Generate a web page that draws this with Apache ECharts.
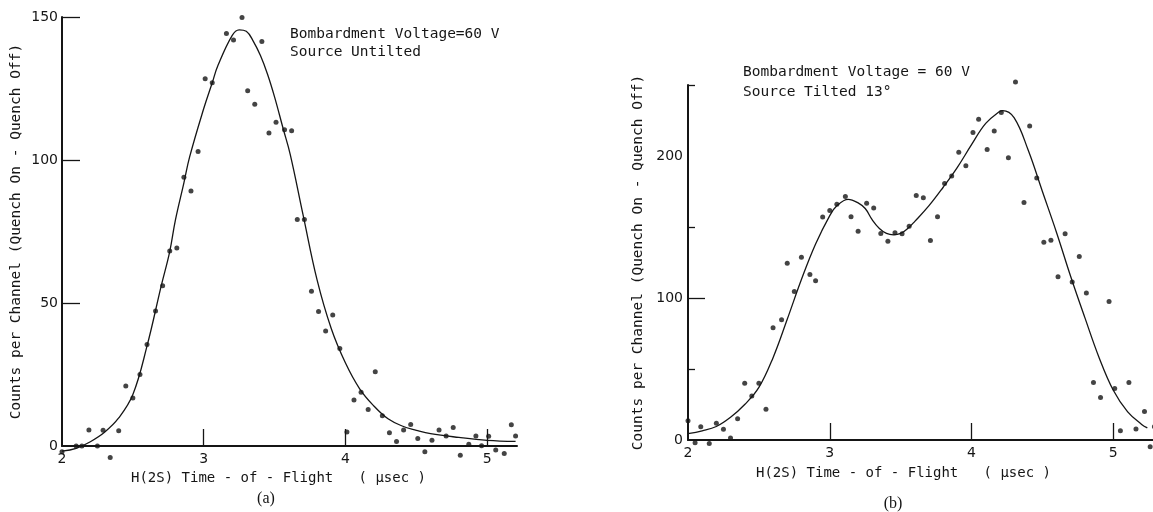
<!DOCTYPE html>
<html>
<head>
<meta charset="utf-8">
<script src="https://cdn.jsdelivr.net/npm/echarts@6/dist/echarts.min.js"></script>
<style>
  html, body { margin: 0; padding: 0; background: #fff; }
  #chart { width: 1153px; height: 512px; }
</style>
</head>
<body>
<div id="chart"></div>
<script>
// (a) source untilted: measured points
const timeA = [2.00, 2.10, 2.14, 2.19, 2.25, 2.29, 2.34, 2.40, 2.45, 2.50, 2.55, 2.60, 2.66, 2.71, 2.76, 2.81,
  2.86, 2.91, 2.96, 3.01, 3.06, 3.16, 3.21, 3.27, 3.31, 3.36, 3.41, 3.46, 3.51, 3.57, 3.62, 3.66, 3.71, 3.76,
  3.81, 3.86, 3.91, 3.96, 4.01, 4.06, 4.11, 4.16, 4.21, 4.26, 4.31, 4.36, 4.41, 4.46, 4.51, 4.56, 4.61, 4.66,
  4.71, 4.76, 4.81, 4.87, 4.92, 4.96, 5.01, 5.06, 5.12, 5.17, 5.20];
const countsA = [-2, 0, 0, 5.6, 0, 5.5, -4, 5.3, 21, 16.8, 25, 35.5, 47.2, 56, 68.2, 69.2,
  94, 89.2, 103, 128.4, 127, 144.2, 142, 149.8, 124.2, 119.5, 141.4, 109.4, 113.2, 110.6, 110.2, 79.2, 79.2, 54.1,
  47, 40.2, 45.8, 34.1, 4.9, 16.1, 18.8, 12.8, 26, 10.6, 4.6, 1.6, 5.6, 7.5, 2.6, -2, 2, 5.6,
  3.5, 6.5, -3.2, 0.6, 3.5, 0.1, 3.4, -1.4, -2.6, 7.4, 3.5];
// (a) fitted curve
const fitTimeA = [2.00, 2.10, 2.20, 2.30, 2.40, 2.50, 2.60, 2.70, 2.76, 2.80, 2.86, 2.90, 3.00, 3.06, 3.10, 3.20,
  3.25, 3.30, 3.35, 3.40, 3.45, 3.50, 3.56, 3.61, 3.70, 3.80, 3.90, 4.00, 4.10, 4.20, 4.30, 4.40, 4.50, 4.60,
  4.80, 5.00, 5.20];
const fitCountsA = [-1.8, -0.8, 1.5, 4.8, 9.8, 18, 35, 56, 68, 79, 92, 101, 118, 127, 133, 143.5,
  145.5, 145, 141.5, 136.5, 130, 122, 111, 102, 81, 58, 41, 29, 20, 14, 9.5, 7, 5.5, 4.3,
  3, 2, 1.6];

// (b) source tilted 13°: measured points
const timeB = [2.00, 2.05, 2.09, 2.15, 2.20, 2.25, 2.30, 2.35, 2.40, 2.45, 2.50, 2.55, 2.60, 2.66, 2.70, 2.75,
  2.80, 2.86, 2.90, 2.95, 3.00, 3.05, 3.11, 3.15, 3.20, 3.26, 3.31, 3.36, 3.41, 3.46, 3.51, 3.56, 3.61, 3.66,
  3.71, 3.76, 3.81, 3.86, 3.91, 3.96, 4.01, 4.05, 4.11, 4.16, 4.21, 4.26, 4.31, 4.37, 4.41, 4.46, 4.51, 4.56,
  4.61, 4.66, 4.71, 4.76, 4.81, 4.86, 4.91, 4.97, 5.01, 5.05, 5.11, 5.16, 5.22, 5.26, 5.29];
const countsB = [13.6, -1.9, 9.4, -2.4, 11.8, 7.5, 1.4, 15, 40, 31, 40, 21.6, 79, 84.7, 124.5, 104.5,
  128.7, 116.5, 112.2, 157, 161.6, 166, 171.5, 157.2, 147, 166.8, 163.3, 145.4, 140, 145.9, 145.2, 150.6, 172.2, 170.6,
  140.5, 157.2, 180.7, 185.9, 202.6, 193.2, 216.5, 225.9, 204.5, 217.6, 230.6, 198.8, 252.2, 167.3, 221.2, 184.5, 139.3, 140.7,
  115, 145.2, 111.3, 129.2, 103.5, 40.5, 30, 97.6, 36.2, 6.6, 40.5, 7.8, 20, -4.7, 9.4];
// (b) fitted curve
const fitTimeB = [2.0, 2.1, 2.2, 2.3, 2.4, 2.5, 2.6, 2.7, 2.8, 2.9, 3.0, 3.05, 3.13, 3.2, 3.25, 3.3, 3.35, 3.4,
  3.45, 3.5, 3.55, 3.6, 3.7, 3.8, 3.9, 4.0, 4.1, 4.2, 4.22, 4.3, 4.4, 4.5, 4.6, 4.7, 4.8, 4.9, 5.0, 5.1, 5.2, 5.24];
const fitCountsB = [4.5, 6.5, 9.5, 16, 25, 37, 58, 85, 113, 138, 158, 165, 169.5, 167, 163, 155, 149, 145.5,
  144.5, 145.5, 149, 154, 165, 178, 192, 208, 223, 231.5, 232, 227, 204, 175, 146, 115, 86, 58, 35, 20, 11, 8.5];

// tick positions / labels
const xLabels = [2, 3, 4, 5];
const xTicks = [3, 4, 5];
const yLabelsA = [0, 50, 100, 150];
const yTicksA = [50, 100, 150];
const yLabelsB = [0, 100, 200];
const yLongTicksB = [100];
const yShortTicksB = [50, 150, 250];

const INK = '#151515';
const MONO = '"DejaVu Sans Mono", monospace';
const NUM = '"DejaVu Sans", sans-serif';

function zip(xs, ys) {
  return xs.map((x, i) => [x, ys[i]]);
}

function xAxisFor(grid, max, padRight, gap) {
  return {
    gridIndex: grid, type: 'value', min: 2, max: max,
    axisLine: { lineStyle: { color: INK, width: 2 } },
    axisTick: { customValues: xTicks, inside: true, length: 17, lineStyle: { color: INK, width: 1.3 } },
    axisLabel: { customValues: xLabels, margin: 6, color: INK, fontSize: 14, fontFamily: NUM },
    splitLine: { show: false },
    name: 'H(2S) Time - of - Flight   ( μsec )',
    nameLocation: 'middle', nameGap: gap,
    nameTextStyle: { color: INK, fontSize: 14, fontFamily: MONO, padding: [0, padRight, 0, 0] }
  };
}

let chart = echarts.init(document.getElementById('chart'));

chart.setOption({
  backgroundColor: '#fff',
  animation: false,
  grid: [
    { left: 62, top: 17, width: 455, height: 429 },
    { left: 688, top: 85, width: 465, height: 355 }
  ],
  xAxis: [
    xAxisFor(0, 5.21, 22, 24),
    xAxisFor(1, 5.28, 34, 26)
  ],
  yAxis: [
    {
      gridIndex: 0, type: 'value', min: 0, max: 150,
      axisLine: { show: true, lineStyle: { color: INK, width: 2 } },
      axisTick: { customValues: yTicksA, inside: true, length: 18, lineStyle: { color: INK, width: 1.3 } },
      axisLabel: { customValues: yLabelsA, margin: 4, color: INK, fontSize: 14, fontFamily: NUM },
      splitLine: { show: false },
      name: 'Counts per Channel (Quench On - Quench Off)',
      nameLocation: 'middle', nameGap: 38,
      nameTextStyle: { color: INK, fontSize: 14.5, fontFamily: MONO }
    },
    {
      gridIndex: 1, type: 'value', min: 0, max: 250, position: 'left',
      axisLine: { show: true, lineStyle: { color: INK, width: 2 } },
      axisTick: { customValues: yLongTicksB, inside: true, length: 17, lineStyle: { color: INK, width: 1.3 } },
      axisLabel: { customValues: yLabelsB, margin: 5, color: INK, fontSize: 14, fontFamily: NUM },
      splitLine: { show: false },
      name: 'Counts per Channel (Quench On - Quench Off)',
      nameLocation: 'middle', nameGap: 42,
      nameTextStyle: { color: INK, fontSize: 14.5, fontFamily: MONO }
    },
    {
      gridIndex: 1, type: 'value', min: 0, max: 250, position: 'left',
      axisLine: { show: false },
      axisTick: { customValues: yShortTicksB, inside: true, length: 7, lineStyle: { color: INK, width: 1.3 } },
      axisLabel: { show: false },
      splitLine: { show: false }
    }
  ],
  series: [
    {
      type: 'line', xAxisIndex: 0, yAxisIndex: 0, clip: false,
      data: zip(fitTimeA, fitCountsA), smooth: 0.4, showSymbol: false,
      lineStyle: { color: INK, width: 1.3 }
    },
    {
      type: 'scatter', xAxisIndex: 0, yAxisIndex: 0, clip: false,
      data: zip(timeA, countsA), symbolSize: 5, itemStyle: { color: INK }
    },
    {
      type: 'line', xAxisIndex: 1, yAxisIndex: 1, clip: false,
      data: zip(fitTimeB, fitCountsB), smooth: 0.4, showSymbol: false,
      lineStyle: { color: INK, width: 1.3 }
    },
    {
      type: 'scatter', xAxisIndex: 1, yAxisIndex: 1, clip: false,
      data: zip(timeB, countsB), symbolSize: 5, itemStyle: { color: INK }
    }
  ],
  graphic: [
    { type: 'text', x: 290, y: 34, style: { text: 'Bombardment Voltage=60 V', font: '14.5px ' + MONO, fill: INK, verticalAlign: 'middle' } },
    { type: 'text', x: 290, y: 52, style: { text: 'Source Untilted', font: '14.5px ' + MONO, fill: INK, verticalAlign: 'middle' } },
    { type: 'text', x: 743, y: 72, style: { text: 'Bombardment Voltage = 60 V', font: '14.5px ' + MONO, fill: INK, verticalAlign: 'middle' } },
    { type: 'text', x: 743, y: 92, style: { text: 'Source Tilted 13°', font: '14.5px ' + MONO, fill: INK, verticalAlign: 'middle' } },
    { type: 'text', x: 266, y: 499, style: { text: '(a)', font: '16px "Liberation Serif", serif', fill: INK, align: 'center', verticalAlign: 'middle' } },
    { type: 'text', x: 893, y: 504, style: { text: '(b)', font: '16px "Liberation Serif", serif', fill: INK, align: 'center', verticalAlign: 'middle' } }
  ]
});
</script>
</body>
</html>
